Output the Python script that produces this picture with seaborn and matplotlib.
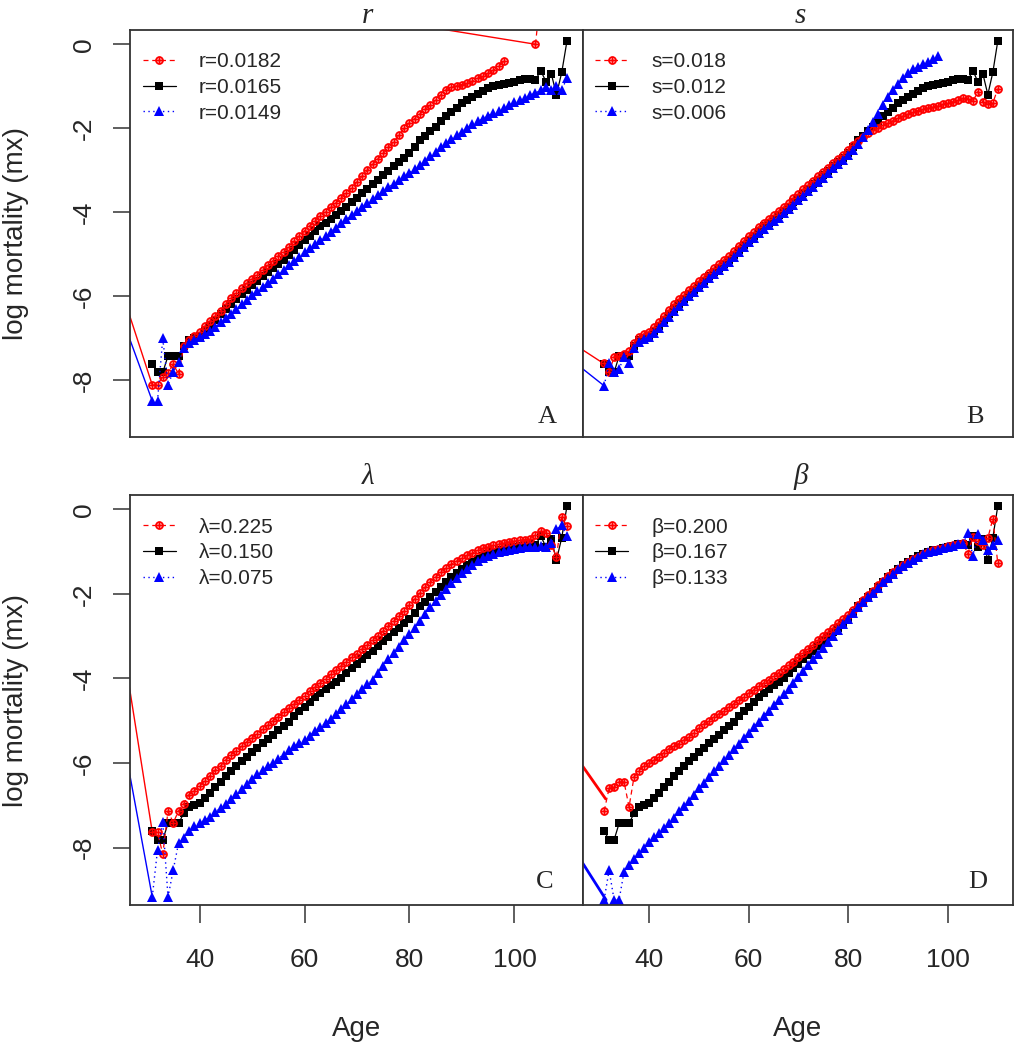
import matplotlib
matplotlib.use("Agg")
import matplotlib.pyplot as plt
import seaborn as sns
from matplotlib.lines import Line2D

sns.set_style("white")
plt.rcParams['font.family'] = ['Liberation Sans', 'DejaVu Sans']
plt.rcParams['axes.unicode_minus'] = False

# ---------------- data ----------------
AGES = list(range(31, 111))

# baseline (middle parameter value) shared by every panel
BLACK = [-7.61, -7.82, -7.82, -7.43, -7.43, -7.43, -7.19, -7.05, -7.00, -6.95,
         -6.84, -6.72, -6.58, -6.44, -6.30, -6.18, -6.07, -5.96, -5.85, -5.74,
         -5.64, -5.53, -5.43, -5.33, -5.23, -5.13, -5.02, -4.90, -4.78, -4.67,
         -4.56, -4.44, -4.34, -4.25, -4.16, -4.08, -3.98, -3.87, -3.76, -3.66,
         -3.55, -3.44, -3.34, -3.23, -3.12, -3.01, -2.90, -2.80, -2.70, -2.59,
         -2.44, -2.29, -2.18, -2.07, -1.96, -1.84, -1.72, -1.61, -1.51, -1.41,
         -1.32, -1.25, -1.18, -1.11, -1.05, -1.00, -0.97, -0.95, -0.92, -0.89,
         -0.86, -0.83, -0.82, -0.85, -0.63, -0.89, -0.70, -1.20, -0.67, 0.08]

# Panel A (r)
RED_A_AGES = list(range(31, 99))
RED_A = [-8.12, -8.12, -7.92, -7.84, -7.62, -7.86, -7.20, -7.05, -6.95, -6.85,
         -6.72, -6.60, -6.48, -6.35, -6.20, -6.05, -5.92, -5.82, -5.70, -5.60,
         -5.50, -5.38, -5.27, -5.16, -5.05, -4.95, -4.83, -4.70, -4.57, -4.45,
         -4.33, -4.22, -4.10, -3.99, -3.89, -3.78, -3.67, -3.55, -3.42, -3.28,
         -3.14, -3.00, -2.86, -2.73, -2.60, -2.46, -2.32, -2.17, -2.00, -1.87,
         -1.77, -1.66, -1.55, -1.44, -1.33, -1.20, -1.08, -1.02, -0.99, -0.96,
         -0.93, -0.88, -0.81, -0.76, -0.69, -0.62, -0.52, -0.41]
RED_A_TAIL_AGES = [104, 105]
RED_A_TAIL = [0.00, 1.20]
RED_A_TOP_AGES = [60, 104]
RED_A_TOP = [0.89, 0.00]
BLUE_A = [-8.50, -8.50, -7.01, -8.12, -7.80, -7.58, -7.24, -7.12, -7.05, -6.98,
          -6.91, -6.84, -6.73, -6.63, -6.52, -6.42, -6.31, -6.20, -6.09, -5.98,
          -5.88, -5.78, -5.69, -5.59, -5.48, -5.37, -5.27, -5.17, -5.06, -4.96,
          -4.86, -4.76, -4.67, -4.57, -4.47, -4.37, -4.27, -4.17, -4.08, -3.98,
          -3.89, -3.79, -3.69, -3.60, -3.50, -3.41, -3.32, -3.23, -3.14, -3.06,
          -2.97, -2.88, -2.78, -2.67, -2.57, -2.46, -2.36, -2.26, -2.17, -2.08,
          -1.99, -1.91, -1.84, -1.77, -1.70, -1.63, -1.58, -1.53, -1.45, -1.38,
          -1.32, -1.27, -1.21, -1.16, -1.10, -1.03, -1.08, -1.00, -1.08, -0.81]

# Panel B (s)
RED_B = [-7.60, -7.82, -7.45, -7.42, -7.38, -7.30, -7.12, -6.98, -6.90, -6.85,
         -6.74, -6.62, -6.48, -6.34, -6.20, -6.08, -5.97, -5.86, -5.76, -5.65,
         -5.55, -5.44, -5.34, -5.24, -5.14, -5.04, -4.93, -4.81, -4.69, -4.58,
         -4.47, -4.35, -4.25, -4.16, -4.07, -3.98, -3.88, -3.78, -3.67, -3.57,
         -3.46, -3.36, -3.26, -3.15, -3.05, -2.94, -2.84, -2.74, -2.63, -2.52,
         -2.41, -2.31, -2.21, -2.12, -2.05, -1.99, -1.93, -1.88, -1.82, -1.76,
         -1.71, -1.66, -1.61, -1.58, -1.55, -1.52, -1.49, -1.46, -1.43, -1.40,
         -1.37, -1.33, -1.28, -1.30, -1.36, -1.13, -1.38, -1.42, -1.40, -1.06]
BLUE_B_AGES = list(range(31, 99))
BLUE_B = [-8.14, -7.60, -7.82, -7.74, -7.45, -7.60, -7.25, -7.10, -7.03, -6.98,
          -6.88, -6.77, -6.63, -6.49, -6.35, -6.23, -6.12, -6.01, -5.90, -5.79,
          -5.69, -5.58, -5.48, -5.38, -5.28, -5.18, -5.07, -4.95, -4.83, -4.72,
          -4.61, -4.50, -4.40, -4.31, -4.22, -4.13, -4.03, -3.93, -3.82, -3.72,
          -3.61, -3.50, -3.40, -3.29, -3.18, -3.07, -2.96, -2.86, -2.76, -2.65,
          -2.52, -2.38, -2.22, -2.05, -1.86, -1.66, -1.45, -1.26, -1.10, -0.95,
          -0.80, -0.68, -0.60, -0.54, -0.47, -0.42, -0.35, -0.29]

# Panel C (lambda)
RED_C = [-7.63, -7.63, -8.16, -7.14, -7.41, -7.14, -6.96, -6.75, -6.66, -6.55,
         -6.42, -6.30, -6.17, -6.07, -5.93, -5.80, -5.71, -5.61, -5.50, -5.41,
         -5.31, -5.20, -5.11, -5.00, -4.91, -4.80, -4.71, -4.61, -4.50, -4.41,
         -4.30, -4.21, -4.10, -4.01, -3.90, -3.81, -3.70, -3.61, -3.50, -3.41,
         -3.30, -3.21, -3.10, -2.99, -2.88, -2.76, -2.65, -2.52, -2.40, -2.26,
         -2.12, -1.98, -1.84, -1.72, -1.60, -1.49, -1.39, -1.30, -1.22, -1.15,
         -1.09, -1.03, -0.97, -0.92, -0.88, -0.85, -0.83, -0.80, -0.77, -0.75,
         -0.73, -0.72, -0.70, -0.60, -0.52, -0.55, -0.85, -1.12, -0.18, -0.40]
BLUE_C = [-9.17, -8.06, -7.39, -9.17, -8.53, -7.90, -7.78, -7.60, -7.50, -7.43,
          -7.36, -7.27, -7.17, -7.06, -6.96, -6.85, -6.74, -6.62, -6.50, -6.38,
          -6.27, -6.17, -6.08, -5.99, -5.90, -5.80, -5.70, -5.61, -5.52, -5.45,
          -5.35, -5.25, -5.15, -5.05, -4.95, -4.84, -4.73, -4.61, -4.49, -4.37,
          -4.26, -4.14, -4.03, -3.87, -3.70, -3.53, -3.40, -3.25, -3.10, -2.95,
          -2.80, -2.64, -2.48, -2.32, -2.16, -2.02, -1.88, -1.75, -1.62, -1.50,
          -1.40, -1.31, -1.23, -1.16, -1.10, -1.05, -1.02, -0.99, -0.96, -0.93,
          -0.91, -0.89, -0.88, -0.90, -0.86, -0.90, -0.80, -0.47, -0.38, -0.64]

# Panel D (beta)
RED_D = [-7.14, -6.60, -6.58, -6.45, -6.45, -7.04, -6.33, -6.18, -6.08, -6.00,
         -5.94, -5.86, -5.76, -5.66, -5.60, -5.54, -5.46, -5.38, -5.28, -5.18,
         -5.08, -5.00, -4.92, -4.84, -4.76, -4.68, -4.60, -4.52, -4.44, -4.35,
         -4.27, -4.19, -4.11, -4.03, -3.95, -3.86, -3.78, -3.69, -3.60, -3.50,
         -3.40, -3.30, -3.20, -3.10, -3.00, -2.90, -2.80, -2.70, -2.60, -2.50,
         -2.39, -2.27, -2.15, -2.03, -1.92, -1.80, -1.69, -1.58, -1.49, -1.40,
         -1.32, -1.25, -1.18, -1.12, -1.06, -1.01, -0.97, -0.94, -0.91, -0.87,
         -0.84, -0.81, -0.79, -1.05, -0.65, -0.76, -0.85, -0.68, -0.22, -1.28]
BLUE_D = [-9.24, -8.53, -9.24, -9.24, -8.57, -8.42, -8.26, -8.14, -8.02, -7.88,
          -7.75, -7.65, -7.55, -7.42, -7.30, -7.14, -7.02, -6.90, -6.75, -6.60,
          -6.47, -6.33, -6.20, -6.06, -5.93, -5.80, -5.67, -5.54, -5.41, -5.28,
          -5.15, -5.02, -4.89, -4.76, -4.63, -4.50, -4.37, -4.24, -4.10, -3.97,
          -3.83, -3.69, -3.55, -3.41, -3.27, -3.13, -2.99, -2.85, -2.72, -2.60,
          -2.46, -2.32, -2.20, -2.08, -1.97, -1.85, -1.73, -1.62, -1.52, -1.42,
          -1.33, -1.26, -1.19, -1.12, -1.06, -1.01, -0.98, -0.95, -0.92, -0.89,
          -0.86, -0.83, -0.82, -0.56, -1.10, -0.58, -0.72, -0.95, -0.85, -0.73]

# stray lead-in segments entering from the left edge (ages, values)
LEADS = {
    'A': {'red': ([26.0, 31.0], [-6.20, -8.12]), 'blue': ([26.0, 31.0], [-6.78, -8.50])},
    'B': {'red': ([26.0, 30.4], [-7.23, -7.57]), 'blue': ([26.0, 31.0], [-7.67, -8.14])},
    'C': {'red': ([26.0, 31.0], [-3.70, -7.63]), 'blue': ([26.0, 31.0], [-5.79, -9.17])},
    'D': {'red': ([26.0, 31.3], [-5.96, -6.85]), 'blue': ([26.0, 31.4], [-8.24, -9.24])},
}

TITLES = {'A': 'r', 'B': 's', 'C': 'λ', 'D': 'β'}
LEGEND_LABELS = {
    'A': ['r=0.0182', 'r=0.0165', 'r=0.0149'],
    'B': ['s=0.018', 's=0.012', 's=0.006'],
    'C': ['λ=0.225', 'λ=0.150', 'λ=0.075'],
    'D': ['β=0.200', 'β=0.167', 'β=0.133'],
}
XTICKS = [40, 60, 80, 100]
YTICKS = [0, -2, -4, -6, -8]

# ---------------- styles ----------------
RED, BLUE = '#FF0000', '#0000FF'
STY = {
    'red': dict(color=RED, linestyle=(0, (4, 3)), marker=r'$\oplus$', markersize=5.6,
                markeredgewidth=0.6, markeredgecolor=RED, markerfacecolor=RED,
                linewidth=0.9),
    'black': dict(color='black', linestyle='-', marker='s', markersize=5.4,
                  markeredgewidth=0, markeredgecolor='black', linewidth=0.9),
    'blue': dict(color=BLUE, linestyle=(0, (1, 2.5)), marker='^', markersize=6.8,
                 markeredgewidth=0, markeredgecolor=BLUE, linewidth=1.0),
}

W, H = 1014, 1050
fig = plt.figure(figsize=(W / 100, H / 100), dpi=100)
POS = {
    'A': (130, 30, 583, 437),
    'B': (583, 30, 1013, 437),
    'C': (130, 495, 583, 905),
    'D': (583, 495, 1013, 905),
}

series = {
    'A': [('red', RED_A_AGES, RED_A), ('blue', AGES, BLUE_A)],
    'B': [('red', AGES, RED_B), ('blue', BLUE_B_AGES, BLUE_B)],
    'C': [('red', AGES, RED_C), ('blue', AGES, BLUE_C)],
    'D': [('red', AGES, RED_D), ('blue', AGES, BLUE_D)],
}

for key, (x0, y0, x1, y1) in POS.items():
    ax = fig.add_axes([x0 / W, 1 - y1 / H, (x1 - x0) / W, (y1 - y0) / H])
    lw_lead = 2.0 if key == 'D' else 1.0
    for col, c in (('red', RED), ('blue', BLUE)):
        la, lv = LEADS[key][col]
        sns.lineplot(x=la, y=lv, ax=ax, color=c, linewidth=lw_lead,
                     estimator=None, sort=False, legend=False)
    if key == 'A':
        sns.lineplot(x=RED_A_TOP_AGES, y=RED_A_TOP, ax=ax, color=RED, linewidth=1.0,
                     estimator=None, sort=False, legend=False)
    # black baseline first, then red, then blue
    sns.lineplot(x=AGES, y=BLACK, ax=ax, estimator=None, sort=False, legend=False,
                 **STY['black'])
    for col, xa, ya in series[key]:
        if col == 'red':
            sns.lineplot(x=xa, y=ya, ax=ax, estimator=None, sort=False, legend=False,
                         **STY['red'])
    if key == 'A':
        sns.lineplot(x=RED_A_TAIL_AGES, y=RED_A_TAIL, ax=ax, estimator=None, sort=False,
                     legend=False, **STY['red'])
    for col, xa, ya in series[key]:
        if col == 'blue':
            sns.lineplot(x=xa, y=ya, ax=ax, estimator=None, sort=False, legend=False,
                         **STY['blue'])

    ax.set_xlim(26.76, 113.05)
    ax.set_ylim(-9.36, 0.34)
    ax.set_xlabel('')
    ax.set_ylabel('')
    for sp in ax.spines.values():
        sp.set_color('#333333')
        sp.set_linewidth(1.3)

    if key in ('C', 'D'):
        ax.set_xticks(XTICKS)
        ax.set_xticklabels([str(t) for t in XTICKS])
        ax.tick_params(axis='x', direction='out', length=13, width=1.1, color='#333333',
                       labelsize=19, pad=18, bottom=True)
        ax.set_xlabel('Age', fontsize=20)
        ax.xaxis.set_label_coords(0.5, -0.27)
    else:
        ax.set_xticks([])
    if key in ('A', 'C'):
        ax.set_yticks(YTICKS)
        ax.set_yticklabels([str(t) for t in YTICKS])
        ax.tick_params(axis='y', direction='out', length=12.5, width=1.1, color='#333333',
                       labelsize=19, pad=12, left=True)
        for lab in ax.get_yticklabels():
            lab.set_rotation(90)
            lab.set_va('center')
        ax.set_ylabel('log mortality (mx)', fontsize=20)
        ax.yaxis.set_label_coords(-0.222, 0.5)
    else:
        ax.set_yticks([])

    tx = 0.525 if key in ('A', 'C') else 0.506
    tpad = 5 if key in ('A', 'B') else 8
    ax.set_title(TITLES[key], fontsize=21, fontstyle='italic',
                 family=['Liberation Serif', 'DejaVu Serif'], pad=tpad, x=tx)

    lx = {'A': 0.920, 'B': 0.912, 'C': 0.916, 'D': 0.918}[key]
    ly = 0.034 if key in ('A', 'B') else 0.041
    ax.text(lx, ly, key, transform=ax.transAxes, ha='center', va='baseline',
            fontsize=19, family=['Liberation Serif', 'DejaVu Serif'])

    handles = [Line2D([], [], **STY[c]) for c in ('red', 'black', 'blue')]
    ax.legend(handles, LEGEND_LABELS[key], loc='upper left',
              bbox_to_anchor=(0.028, 0.945), frameon=False, fontsize=15,
              handlelength=1.6, handletextpad=1.1, labelspacing=0.32,
              borderpad=0, borderaxespad=0)

fig.savefig('out.png', dpi=100)
